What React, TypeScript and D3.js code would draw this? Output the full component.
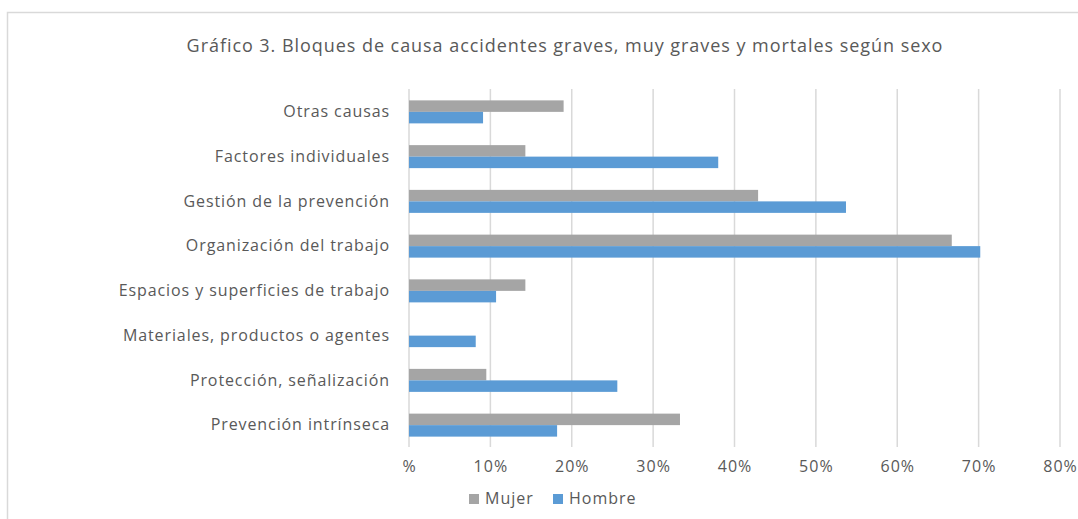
import React, { useEffect, useRef } from "react";
import * as d3 from "d3";

const categories = [
  "Otras causas",
  "Factores individuales",
  "Gestión de la prevención",
  "Organización del trabajo",
  "Espacios y superficies de trabajo",
  "Materiales, productos o agentes",
  "Protección, señalización",
  "Prevención intrínseca",
];
const mujer = [19.0, 14.3, 42.9, 66.7, 14.3, 0, 9.5, 33.3];
const hombre = [9.1, 38.0, 53.7, 70.2, 10.7, 8.2, 25.6, 18.2];
const series = ["Mujer", "Hombre"];
const tickValues = [0, 10, 20, 30, 40, 50, 60, 70, 80];
const tickLabels = ["%", "10%", "20%", "30%", "40%", "50%", "60%", "70%", "80%"];
const title = "Gráfico 3. Bloques de causa accidentes graves, muy graves y mortales según sexo";

const colors = { Mujer: "#A5A5A5", Hombre: "#5B9BD5" };
const textColor = "#595959";
const font = "'Open Sans', sans-serif";

const W = 1078;
const H = 519;

const App = () => {
  const svgRef = useRef(null);

  useEffect(() => {
    const svg = d3.select(svgRef.current);
    svg.selectAll("*").remove();

    const x = d3.scaleLinear().domain([0, 80]).range([409, 1060]);
    const y = d3
      .scaleBand()
      .domain(categories)
      .range([89.5, 447.5])
      .paddingInner(0.486)
      .paddingOuter(0.243);
    const inner = d3.scaleBand().domain(series).range([0, y.bandwidth()]);

    // chart border
    svg
      .append("rect")
      .attr("x", 7.5)
      .attr("y", 12.5)
      .attr("width", W + 20)
      .attr("height", H + 20)
      .attr("fill", "white")
      .attr("stroke", "#D9D9D9")
      .attr("stroke-width", 1.5);

    svg
      .append("text")
      .attr("x", 565)
      .attr("y", 52)
      .attr("text-anchor", "middle")
      .attr("fill", textColor)
      .style("font-family", font)
      .style("font-size", "18px")
      .style("letter-spacing", "0.95px")
      .text(title);

    // gridlines
    svg
      .append("g")
      .selectAll("line")
      .data(tickValues)
      .join("line")
      .attr("x1", (d) => x(d))
      .attr("x2", (d) => x(d))
      .attr("y1", 89)
      .attr("y2", 447)
      .attr("stroke", "#D9D9D9")
      .attr("stroke-width", 1.5);

    const xAxis = d3
      .axisBottom(x)
      .tickValues(tickValues)
      .tickSize(0)
      .tickPadding(0)
      .tickFormat((d, i) => tickLabels[i]);
    const gx = svg.append("g").attr("transform", "translate(0,461)").call(xAxis);
    gx.select(".domain").remove();
    gx.selectAll("text")
      .attr("fill", textColor)
      .attr("dy", "0.71em")
      .style("font-family", font)
      .style("font-size", "16px")
      .style("letter-spacing", "1px");

    const yAxis = d3.axisLeft(y).tickSize(0).tickPadding(19);
    const gy = svg.append("g").attr("transform", "translate(409,0)").call(yAxis);
    gy.select(".domain").remove();
    gy.selectAll("text")
      .attr("fill", textColor)
      .style("font-family", font)
      .style("font-size", "16px")
      .style("letter-spacing", "0.9px");

    const rows = categories.map((c, i) => ({ c, Mujer: mujer[i], Hombre: hombre[i] }));
    const groups = svg
      .append("g")
      .selectAll("g")
      .data(rows)
      .join("g")
      .attr("transform", (d) => `translate(0,${y(d.c)})`);
    groups
      .selectAll("rect")
      .data((d) => series.map((s) => ({ s, v: d[s] })))
      .join("rect")
      .attr("x", x(0))
      .attr("y", (d) => inner(d.s))
      .attr("width", (d) => x(d.v) - x(0))
      .attr("height", inner.bandwidth())
      .attr("fill", (d) => colors[d.s]);

    // legend
    const legendX = [469, 553];
    const lg = svg
      .append("g")
      .selectAll("g")
      .data(series)
      .join("g")
      .attr("transform", (d, i) => `translate(${legendX[i]},494)`);
    lg.append("rect")
      .attr("width", 10)
      .attr("height", 10)
      .attr("fill", (d) => colors[d]);
    lg.append("text")
      .attr("x", 16)
      .attr("y", 10)
      .attr("fill", textColor)
      .style("font-family", font)
      .style("font-size", "16px")
      .style("letter-spacing", "1px")
      .text((d) => d);
  }, []);

  return (
    <svg
      ref={svgRef}
      width={W}
      height={H}
      style={{ position: "absolute", left: 0, top: 0, background: "white" }}
    />
  );
};

export default App;
